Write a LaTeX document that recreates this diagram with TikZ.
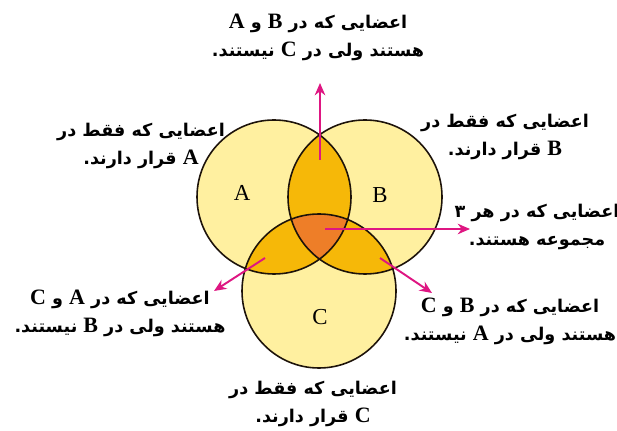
\documentclass[tikz,border=0pt]{standalone}
\usepackage{fontspec}
\setmainfont{Liberation Serif}
\newfontfamily\farsi[Script=Arabic]{DejaVu Sans}
\usetikzlibrary{arrows.meta}
\TeXXeTstate=1
\definecolor{setfill}{RGB}{255,240,160}
\definecolor{twofill}{RGB}{246,184,8}
\definecolor{allfill}{RGB}{238,126,40}
\definecolor{pointer}{RGB}{222,22,130}
\newcommand{\rtl}[1]{\beginR #1\endR}
\newcommand{\en}[1]{{\rmfamily\bfseries\fontsize{12.5}{16}\selectfont #1}}

\begin{document}
\begin{tikzpicture}[
    x=0.02cm, y=-0.02cm,
    setname/.style={font=\fontsize{13}{13}\selectfont},
    note/.style={align=center, inner sep=0pt, font=\farsi\bfseries\fontsize{10}{16}\selectfont},
    rim/.style={draw=black!85!brown, line width=0.9pt},
    arrow/.style={-{Stealth[length=7pt,width=6pt]}, line width=1.1pt, pointer}
  ]
  \useasboundingbox (0,0) rectangle (617,431);

  % Set centres
  \coordinate (a) at (274,197);
  \coordinate (b) at (365,197);
  \coordinate (c) at (319,291);

  % Fills: single sets, pairs, all three
  \fill[setfill] (a) circle[radius=77] (b) circle[radius=77] (c) circle[radius=77];
  \begin{scope}
    \clip (a) circle[radius=77];
    \fill[twofill] (b) circle[radius=77] (c) circle[radius=77];
  \end{scope}
  \begin{scope}
    \clip (b) circle[radius=77];
    \fill[twofill] (c) circle[radius=77];
  \end{scope}
  \begin{scope}
    \clip (a) circle[radius=77];
    \clip (b) circle[radius=77];
    \fill[allfill] (c) circle[radius=77];
  \end{scope}
  \path[rim] (a) circle[radius=77] (b) circle[radius=77] (c) circle[radius=77];

  % Set names
  \node[setname] (na) at (242,193) {A};
  \node[setname] (nb) at (380,195) {B};
  \node[setname] (nc) at (320,317) {C};

  % Descriptions
  \node[note] (tab) at (318,37) {\rtl{اعضایی که در \en{B} و \en{A}}\\\rtl{هستند ولی در \en{C} نیستند.}};
  \node[note] (ta) at (141,146) {\rtl{اعضایی که فقط در}\\\rtl{\en{A} قرار دارند.}};
  \node[note] (tb) at (505,137) {\rtl{اعضایی که فقط در}\\\rtl{\en{B} قرار دارند.}};
  \node[note] (tabc) at (537,227) {\rtl{اعضایی که در هر ۳}\\\rtl{مجموعه هستند.}};
  \node[note] (tac) at (120,313) {\rtl{اعضایی که در \en{A} و \en{C}}\\\rtl{هستند ولی در \en{B} نیستند.}};
  \node[note] (tbc) at (510,321) {\rtl{اعضایی که در \en{B} و \en{C}}\\\rtl{هستند ولی در \en{A} نیستند.}};
  \node[note] (tc) at (313,404) {\rtl{اعضایی که فقط در}\\\rtl{\en{C} قرار دارند.}};

  % Pointers
  \coordinate (pab) at (320,160);  \coordinate (eab) at (320,83);
  \coordinate (pabc) at (325,229); \coordinate (eabc) at (470,229);
  \coordinate (pac) at (265,258);  \coordinate (eac) at (214,291);
  \coordinate (pbc) at (380,258);  \coordinate (ebc) at (432,293);
  \draw[arrow] (pab) -- (eab);
  \draw[arrow] (pabc) -- (eabc);
  \draw[arrow] (pac) -- (eac);
  \draw[arrow] (pbc) -- (ebc);
\end{tikzpicture}
\end{document}
